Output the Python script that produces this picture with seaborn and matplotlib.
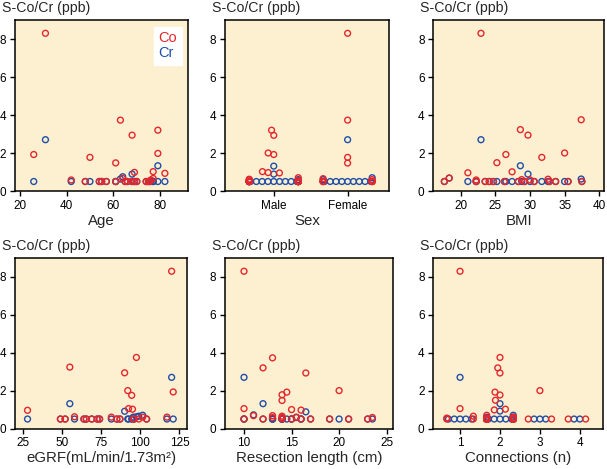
import warnings
warnings.filterwarnings("ignore")
import numpy as np
import pandas as pd
import matplotlib
matplotlib.use("Agg")
import matplotlib.pyplot as plt
import seaborn as sns
import seaborn.categorical as sns_cat
from matplotlib.lines import Line2D

# ---------------- data ----------------
age_x  = [26, 31, 42, 48, 50, 54, 55, 57, 61, 61, 63, 64, 65, 66, 68, 68, 69, 69, 70, 74, 75, 75.5, 76, 77, 77, 79, 79, 82]
age_co = [1.92, 8.3, 0.58, 0.5, 1.77, 0.5, 0.5, 0.5, 1.48, 0.5, 3.73, 0.66, 0.5, 0.5, 2.94, 0.5, 0.98, 0.5, 0.5, 0.5, 0.5, 0.5, 0.58, 1.02, 0.66, 3.2, 1.98, 0.93]
age_cr = [0.5, 2.7, 0.5, 0.5, 0.5, 0.5, 0.5, 0.5, 0.5, 0.5, 0.63, 0.75, 0.5, 0.5, 0.89, 0.5, 0.5, 0.5, 0.5, 0.5, 0.5, 0.5, 0.5, 0.5, 0.5, 1.33, 0.5, 0.5]

sex_levels = ["Male", "Female"]
male_co   = [3.2, 2.93, 2.0, 1.92, 1.02, 0.97, 0.95, 0.7, 0.62, 0.6, 0.55] + [0.5] * 16
male_cr   = [1.31, 0.89, 0.6] + [0.5] * 24
female_co = [8.3, 3.73, 1.77, 1.47, 0.65, 0.6] + [0.5] * 7
female_cr = [2.7, 0.7, 0.6] + [0.5] * 10

bmi_x  = [17.6, 18.3, 21.0, 22.2, 22.2, 22.9, 23.5, 24.1, 24.7, 25.2, 26.3, 26.5, 27.4, 28.3, 28.6, 28.8, 29.2, 29.7, 30.0, 30.6, 31.7, 32.6, 32.8, 33.7, 35.0, 35.5, 37.4, 37.5]
bmi_co = [0.5, 0.68, 0.96, 0.58, 0.5, 8.3, 0.5, 0.5, 0.5, 1.49, 0.5, 1.92, 1.01, 0.5, 3.23, 0.6, 0.5, 2.94, 0.58, 0.5, 1.77, 0.62, 0.5, 0.5, 2.0, 0.5, 3.75, 0.5]
bmi_cr = [0.5, 0.68, 0.5, 0.5, 0.5, 2.7, 0.5, 0.5, 0.5, 0.5, 0.5, 0.5, 0.5, 0.5, 1.33, 0.5, 0.5, 0.89, 0.5, 0.5, 0.5, 0.5, 0.5, 0.5, 0.5, 0.5, 0.63, 0.5]

egfr_x  = [28, 49, 52, 55, 58, 64, 65.5, 69, 72.5, 74, 81.5, 85, 87, 90, 92, 92.5, 94.5, 95, 95.5, 96, 97.5, 99, 101.5, 104, 117, 120, 121]
egfr_co = [0.96, 0.5, 0.5, 3.24, 0.62, 0.5, 0.5, 0.5, 0.5, 0.5, 0.6, 0.5, 0.5, 2.94, 2.0, 1.05, 1.75, 1.02, 0.5, 0.5, 3.75, 0.5, 0.6, 0.5, 0.6, 8.3, 1.93]
egfr_cr = [0.5, 0.5, 0.5, 1.31, 0.5, 0.5, 0.5, 0.5, 0.5, 0.5, 0.5, 0.5, 0.5, 0.91, 0.5, 0.5, 0.5, 0.5, 0.6, 0.5, 0.62, 0.65, 0.7, 0.5, 0.5, 2.7, 0.5]

res_x  = [10, 10, 10, 11, 12, 12, 13, 13, 13, 14, 14, 14, 14, 14, 14.5, 15, 15, 15.5, 16, 16, 16.5, 17, 19, 20, 21, 23, 23.5]
res_co = [8.3, 1.05, 0.5, 0.68, 3.2, 0.5, 3.73, 0.68, 0.58, 1.78, 1.48, 0.65, 0.58, 0.5, 1.92, 1.0, 0.5, 0.6, 0.97, 0.5, 2.93, 0.5, 0.5, 2.0, 0.5, 0.5, 0.58]
res_cr = [2.7, 0.5, 0.5, 0.72, 1.31, 0.5, 0.5, 0.5, 0.5, 0.5, 0.5, 0.5, 0.5, 0.5, 0.5, 0.5, 0.5, 0.58, 0.5, 0.5, 0.88, 0.5, 0.5, 0.5, 0.5, 0.5, 0.5]

conn_levels = [1, 2, 3, 4]
conn1_co = [8.3, 1.05, 0.65, 0.55, 0.5, 0.5]
conn1_cr = [2.7, 0.5, 0.5, 0.5, 0.5, 0.5]
conn2_co = [3.75, 3.2, 2.93, 1.92, 1.77, 1.49, 1.02, 0.98, 0.7, 0.6, 0.6, 0.55] + [0.5] * 17
conn2_cr = [1.31, 0.92, 0.7, 0.6] + [0.5] * 25
conn3_co = [2.0, 0.5, 0.5]
conn3_cr = [0.5, 0.5, 0.5]
conn4_co = [0.5, 0.5]
conn4_cr = [0.5, 0.5]

y_ticks = [0, 2, 4, 6, 8]
title_txt = "S-Co/Cr (ppb)"

# ---------------- style ----------------
RED = "#E6262B"
BLUE = "#1F4EA8"
BG = "#FDF0D0"
pal = {"Co": RED, "Cr": BLUE}

# narrower swarm band (about 2/3 of a category slot); packing ignores the
# outline width so neighbouring circles touch, as in the reference
_orig_bs_init = sns_cat.Beeswarm.__init__
_orig_bs_call = sns_cat.Beeswarm.__call__


def _bs_init(self, orient="x", width=0.8, warn_thresh=.05):
    _orig_bs_init(self, orient=orient, width=width * 0.83, warn_thresh=warn_thresh)


def _bs_call(self, points, center):
    sizes = points.get_sizes()
    lws = points.get_linewidths()
    points.set_sizes(sizes * 0.9)
    points.set_linewidths(0)
    try:
        _orig_bs_call(self, points, center)
    finally:
        points.set_sizes(sizes)
        points.set_linewidths(lws)


sns_cat.Beeswarm.__init__ = _bs_init
sns_cat.Beeswarm.__call__ = _bs_call

sns.set_style("ticks")
plt.rcParams["font.family"] = ["Liberation Sans", "DejaVu Sans"]

W, H = 607, 469
fig = plt.figure(figsize=(W / 100, H / 100), dpi=100)


def add_ax(x0, y0, x1, y1):
    return fig.add_axes([x0 / W, 1 - y1 / H, (x1 - x0) / W, (y1 - y0) / H])


def hollow(colls):
    for c in colls:
        fc = c.get_facecolors()
        c.set_edgecolors(fc)
        c.set_facecolors("none")
        c.set_linewidths(1.0)


def style(ax, xlabel):
    ax.set_facecolor(BG)
    ax.set_ylim(0, 9)
    ax.set_yticks(y_ticks)
    for s in ax.spines.values():
        s.set_visible(True)
        s.set_linewidth(1.1)
        s.set_color("black")
    ax.tick_params(direction="out", length=3.8, width=1.0, labelsize=8.5,
                   pad=2.5, colors="black")
    ax.set_xlabel(xlabel, fontsize=10.8, labelpad=1.5)
    ax.set_ylabel("")
    ax.grid(False)
    ax.annotate(title_txt, xy=(0, 1), xycoords="axes fraction",
                xytext=(-9.5, 5.5), textcoords="offset points",
                fontsize=10.2, ha="left", va="baseline")


def scatter_panel(ax, x, co, cr):
    # Cr rows first so the Co circles are drawn on top
    df = pd.DataFrame({"x": list(x) + list(x),
                       "value": list(cr) + list(co),
                       "metal": ["Cr"] * len(cr) + ["Co"] * len(co)})
    sns.scatterplot(data=df, x="x", y="value", hue="metal", palette=pal,
                    s=18, legend=False, ax=ax)
    hollow(ax.collections)


def swarm_panel(ax, levels, co_lists, cr_lists, native):
    # both metals share one swarm per category
    xs, vals, metals = [], [], []
    for lv, cr in zip(levels, cr_lists):
        xs += [lv] * len(cr); vals += cr; metals += ["Cr"] * len(cr)
    for lv, co in zip(levels, co_lists):
        xs += [lv] * len(co); vals += co; metals += ["Co"] * len(co)
    df = pd.DataFrame({"x": xs, "value": vals, "metal": metals})
    kw = dict(native_scale=True) if native else dict(order=levels)
    sns.swarmplot(data=df, x="x", y="value", hue="metal", palette=pal,
                  size=4.2, legend=False, ax=ax, **kw)
    hollow(ax.collections)


# Age
ax1 = add_ax(15, 20, 188.3, 191)
scatter_panel(ax1, age_x, age_co, age_cr)
style(ax1, "Age")
ax1.set_xlim(18, 92)
ax1.set_xticks([20, 40, 60, 80])
hs = [Line2D([], [], linestyle="none") for _ in range(2)]
ax1.legend(hs, ["Co", "Cr"], loc="upper right", handlelength=0, handletextpad=0,
           labelcolor=[RED, BLUE], fontsize=10.5, frameon=True, fancybox=False,
           framealpha=1, edgecolor="white", facecolor="white",
           borderpad=0.3, labelspacing=0.1, borderaxespad=0.45)

# Sex
ax2 = add_ax(225, 20, 389, 191)
swarm_panel(ax2, sex_levels, [male_co, female_co], [male_cr, female_cr], False)
style(ax2, "Sex")
ax2.set_xlim(-0.66, 1.56)

# BMI
ax3 = add_ax(433.3, 20, 604, 191)
scatter_panel(ax3, bmi_x, bmi_co, bmi_cr)
style(ax3, "BMI")
ax3.set_xlim(16, 40.7)
ax3.set_xticks([20, 25, 30, 35, 40])

# eGFR
ax4 = add_ax(15, 258, 187.3, 428.5)
scatter_panel(ax4, egfr_x, egfr_co, egfr_cr)
style(ax4, "eGRF(mL/min/1.73m²)")
ax4.set_xlim(20, 130)
ax4.set_xticks([25, 50, 75, 100, 125])

# Resection length
ax5 = add_ax(225, 258, 393.3, 428.5)
scatter_panel(ax5, res_x, res_co, res_cr)
style(ax5, "Resection length (cm)")
ax5.set_xlim(8, 25.7)
ax5.set_xticks([10, 15, 20, 25])

# Connections
ax6 = add_ax(433.3, 258, 603, 428.5)
swarm_panel(ax6, conn_levels, [conn1_co, conn2_co, conn3_co, conn4_co],
            [conn1_cr, conn2_cr, conn3_cr, conn4_cr], True)
style(ax6, "Connections (n)")
ax6.set_xlim(0.33, 4.58)
ax6.set_xticks(conn_levels)
ax6.set_xticklabels([str(c) for c in conn_levels])

fig.savefig("out.png", dpi=100)
